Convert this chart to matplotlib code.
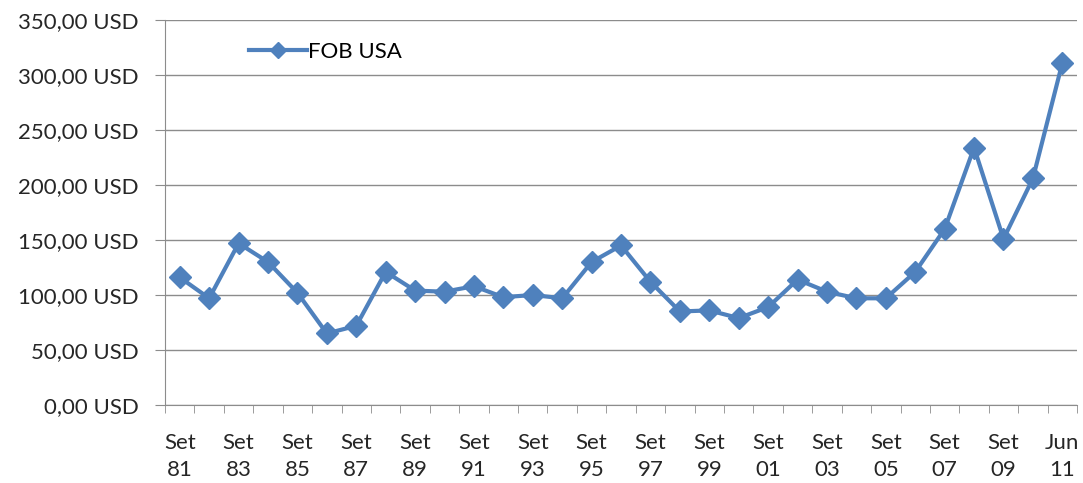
import matplotlib.pyplot as plt
from matplotlib.ticker import FuncFormatter

plt.rcParams['font.family'] = ['Lato', 'DejaVu Sans']

anos = ['81', '82', '83', '84', '85', '86', '87', '88', '89', '90',
        '91', '92', '93', '94', '95', '96', '97', '98', '99', '00',
        '01', '02', '03', '04', '05', '06', '07', '08', '09', '10', '11']
fob_usa = [116, 97, 147, 130, 102, 65, 72, 121, 104, 103,
           108, 98, 100, 97, 130, 145, 112, 85, 86, 79,
           89, 114, 103, 97, 97, 121, 160, 234, 151, 206, 311]

etiquetas = []
for i, a in enumerate(anos):
    if i == len(anos) - 1:
        etiquetas.append('Jun\n' + a)
    elif i % 2 == 0:
        etiquetas.append('Set\n' + a)
    else:
        etiquetas.append('')

azul = '#4F81BD'
gris = '#8C8C8C'

fig = plt.figure(figsize=(10.83, 4.83), dpi=100)
ax = fig.add_axes([0.1524, 0.1615, 0.8421, 0.7971])

x = list(range(len(anos)))
ax.plot(x, fob_usa, color=azul, lw=3, marker='D', ms=11.5, label='FOB USA')

ax.set_xlim(-0.5, len(anos) - 0.5)
ax.set_ylim(0, 350)
ax.set_yticks(range(0, 351, 50))
ax.yaxis.set_major_formatter(FuncFormatter(lambda v, p: f'{v:.2f}'.replace('.', ',') + ' USD'))
ax.grid(axis='y', color=gris, lw=1)
ax.set_axisbelow(True)

ax.set_xticks(x)
ax.set_xticklabels(etiquetas, fontsize=16, color='#262626', linespacing=1.45)
ax.set_xticks([i - 0.5 for i in range(len(anos) + 1)], minor=True)
ax.tick_params(axis='x', which='major', length=0, pad=20)
ax.tick_params(axis='x', which='minor', length=6, color=gris)
ax.tick_params(axis='y', length=7, color=gris, labelsize=16, labelcolor='#262626', pad=12)

for s in ['top', 'right']:
    ax.spines[s].set_visible(False)
for s in ['left', 'bottom']:
    ax.spines[s].set_color(gris)

ax.legend(loc='upper left', bbox_to_anchor=(0.07, 0.995), frameon=False,
          fontsize=16, handlelength=2.6, handletextpad=0.05, markerscale=0.7)

plt.savefig('out.png', dpi=100)
plt.close()
